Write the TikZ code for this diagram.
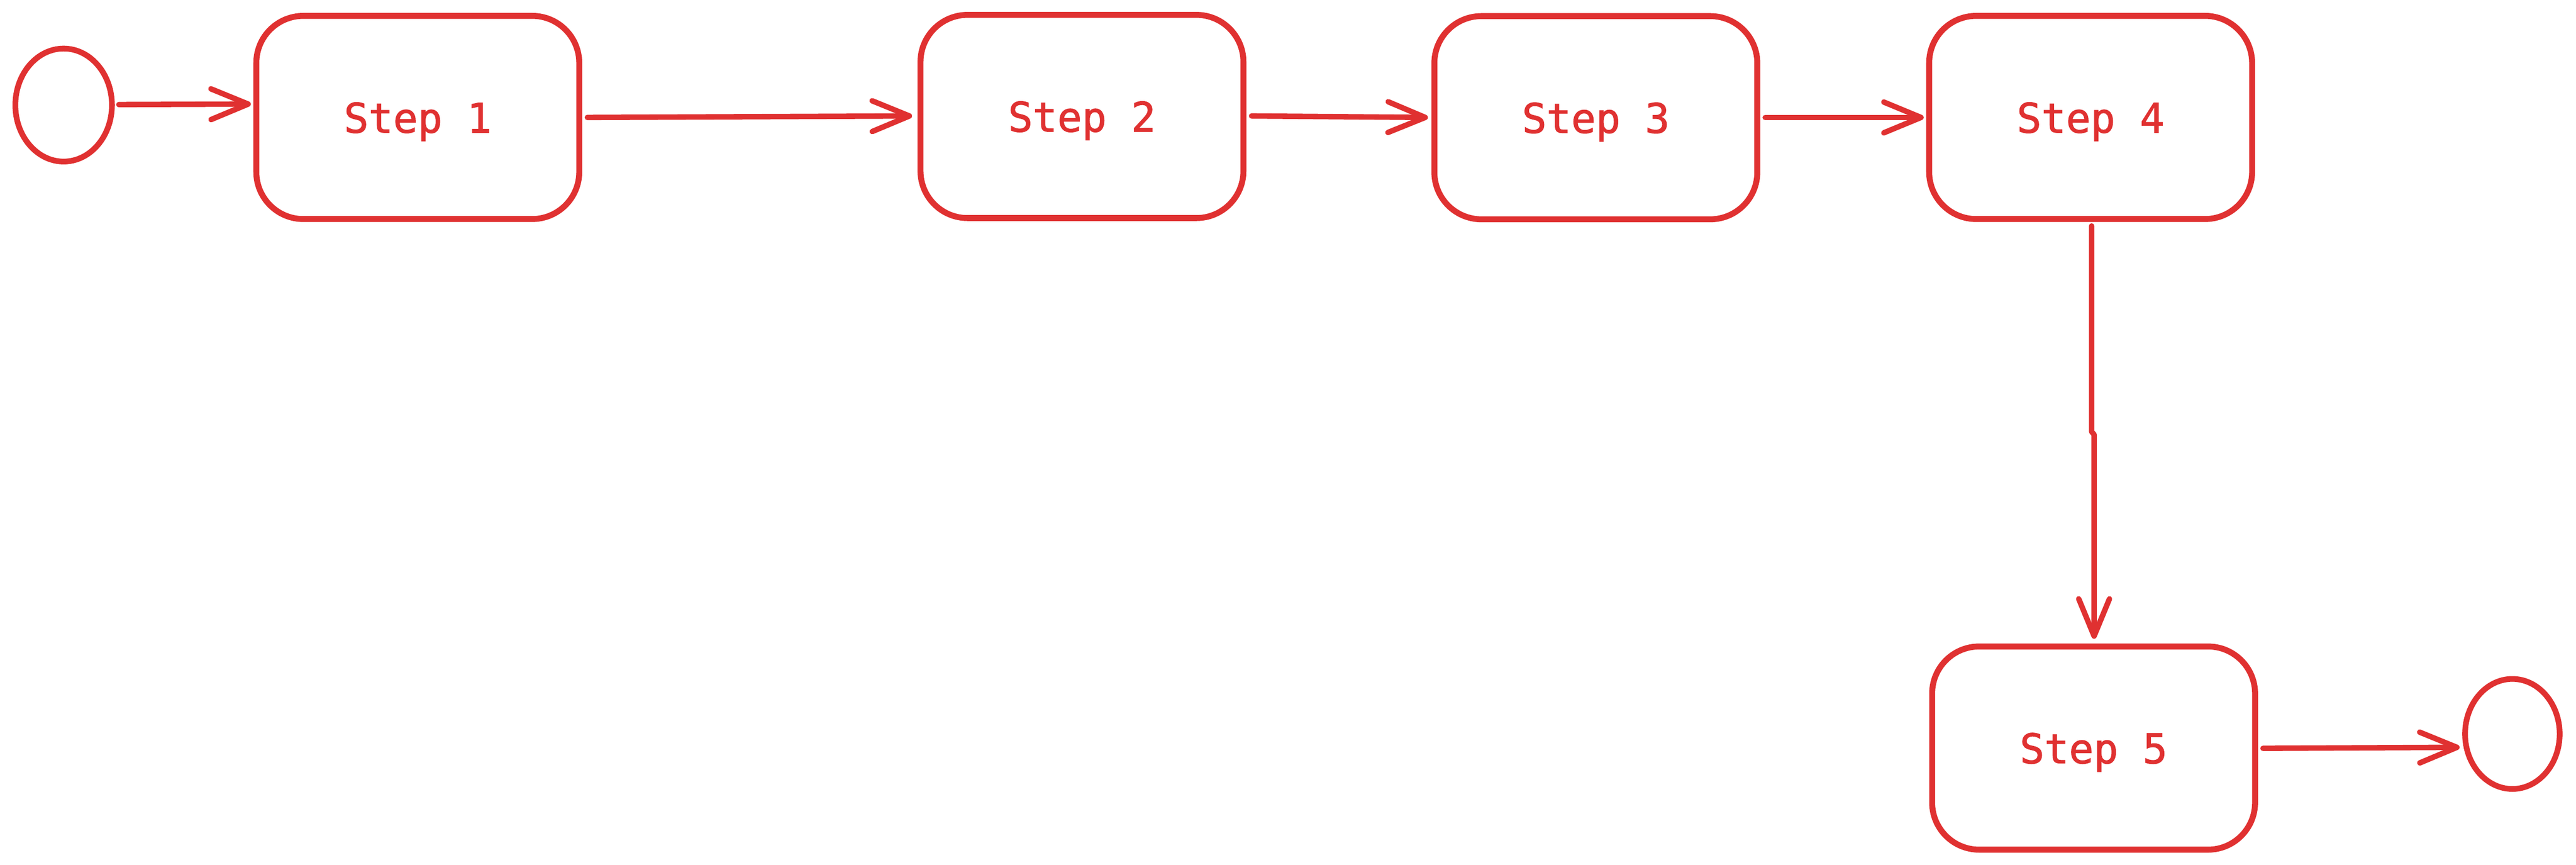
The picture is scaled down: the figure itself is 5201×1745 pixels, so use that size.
\documentclass[tikz,border=0pt]{standalone}
\usepackage{fontspec}
\newfontfamily\stepfont{DejaVu Sans Mono}[FakeBold=1.5]
\newcommand\steplabel[1]{{\stepfont\fontsize{16.5pt}{20pt}\selectfont #1}}
\usetikzlibrary{arrows.meta,shapes.geometric,calc}
\definecolor{exred}{HTML}{E03131}
\tikzset{
  stepbox/.style={draw=exred, line width=2.4pt, rounded corners=19pt,
    minimum width=130.4pt, minimum height=82pt, inner sep=0pt, outer sep=0pt,
    text=exred, text depth=0pt},
  endpoint/.style={draw=exred, line width=2.3pt, ellipse, inner sep=0pt, outer sep=0pt},
  conn/.style={draw=exred, line width=2.2pt, line cap=round, line join=round,
    -{Straight Barb[length=15pt,width=12.4pt,round]}}
}
\begin{document}
\begin{tikzpicture}[x=0.2pt,y=-0.2pt]
\useasboundingbox (0,0) rectangle (5201,1745);
\fill[white] (0,0) rectangle (5201,1745);
% endpoints
\node[endpoint, minimum width=39pt, minimum height=45.6pt] (start) at (128.5,212) {};
\node[endpoint, minimum width=38.2pt, minimum height=44.4pt] (end) at (5072.5,1481) {};
% steps
\node[stepbox] (s1) at (843.5,237) {\steplabel{Step 1}};
\node[stepbox] (s2) at (2184.5,235) {\steplabel{Step 2}};
\node[stepbox] (s3) at (3222,237.5) {\steplabel{Step 3}};
\node[stepbox] (s4) at (4221,237) {\steplabel{Step 4}};
\node[stepbox] (s5) at (4227,1509.5) {\steplabel{Step 5}};
% connectors
\draw[conn] ($(start.east)+(14,-1)$) -- ($(s1.west)+(-11,-27)$);
\draw[conn] ($(s1.east)+(16.5,0)$) -- ($(s2.west)+(-17,-1)$);
\draw[conn] ($(s2.east)+(16.5,-1)$) -- ($(s3.west)+(-13,-0.5)$);
\draw[conn] ($(s3.east)+(16,-0.5)$) -- ($(s4.west)+(-11,0)$);
\draw[conn] ($(s4.south)+(2,14)$) -- ($(s4.south)+(2,429)$) -- ($(s5.north)+(1,-427.5)$) -- ($(s5.north)+(1,-15.5)$);
\draw[conn] ($(s5.east)+(16,0.5)$) -- ($(end.west)+(-11,27)$);
\end{tikzpicture}
\end{document}
